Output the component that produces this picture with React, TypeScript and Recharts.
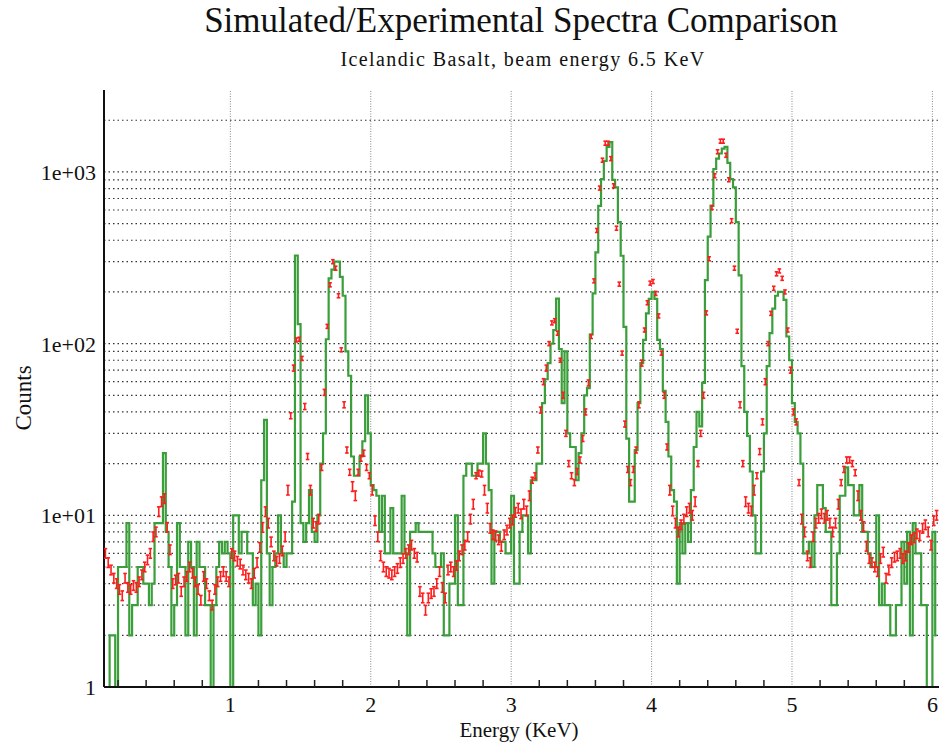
import React from 'react';
import { ComposedChart, Line, Scatter, XAxis, YAxis, ReferenceLine } from 'recharts';

// Spectrum bins: 0.02 keV wide, starting at 0.10 keV
const BIN_START = 0.1;
const BIN_WIDTH = 0.02;

// Simulated counts (green histogram), one value per bin
const simulated = [
  0, 0, 2, 2, 0, 5, 5, 5, 9, 2,
  3, 3, 5, 5, 4, 4, 3, 4, 9, 9,
  9, 23, 8, 5, 2, 3, 9, 5, 5, 2,
  7, 5, 2, 7, 5, 5, 3, 3, 0, 3,
  5, 7, 6, 7, 6, 0, 10, 10, 6, 8,
  8, 6, 6, 3, 4, 2, 16, 36, 6, 3,
  5, 6, 10, 6, 5, 6, 6, 12, 326, 130,
  9, 7, 9, 14, 8, 7, 10, 20, 30, 106,
  240, 270, 300, 300, 245, 190, 90, 65, 22, 17,
  17, 22, 27, 50, 30, 15, 14, 13, 8, 13,
  6, 6, 11, 6, 6, 6, 13, 6, 2, 8,
  8, 9, 8, 8, 8, 8, 8, 6, 5, 5,
  6, 2, 2, 4, 4, 10, 3, 3, 17, 20,
  20, 17, 17, 20, 20, 30, 20, 14, 4, 8,
  8, 7, 7, 6, 6, 13, 4, 4, 8, 10,
  10, 6, 16, 16, 20, 20, 45, 62, 77, 100,
  120, 183, 93, 45, 90, 30, 25, 25, 16, 23,
  30, 50, 55, 113, 196, 340, 634, 907, 1160, 1400,
  1490, 900, 812, 510, 325, 125, 28, 12, 12, 24,
  45, 77, 105, 150, 182, 200, 182, 105, 93, 53,
  35, 22, 14, 12, 4, 9, 6, 9, 7, 14,
  25, 40, 33, 59, 234, 420, 634, 1040, 1195, 1280,
  1366, 1400, 1130, 907, 812, 510, 250, 74, 40, 29,
  18, 10, 6, 6, 18, 30, 74, 115, 160, 190,
  200, 200, 180, 110, 80, 45, 35, 30, 20, 6,
  6, 7, 5, 10, 15, 15, 11, 8, 8, 3,
  3, 6, 13, 13, 19, 15, 15, 10, 10, 15,
  8, 8, 6, 5, 5, 10, 3, 4, 3, 3,
  2, 2, 3, 3, 7, 4, 8, 2, 9, 6,
  6, 3, 3, 0, 0, 8, 2,
];

// Experimental counts (red points with error bars)
const experimental = [
  6.0, 5.3, 4.8, 4.3, 4.0, 3.7, 3.4, 4.3, 3.8, 3.7,
  3.9, 3.8, 4.1, 4.5, 5.0, 5.5, 6.0, 7.5, 8.0, 10.5,
  12.0, 12.5, 8.5, 6.3, 4.0, 4.2, 4.3, 3.6, 4.1, 4.4,
  5.0, 4.6, 4.1, 3.7, 3.2, 4.4, 4.0, 3.4, 3.0, 3.7,
  4.1, 4.4, 4.7, 4.4, 4.1, 6.0, 5.8, 5.4, 5.2, 4.8,
  4.5, 4.3, 4.0, 4.6, 5.3, 6.5, 8.5, 10.5, 9.0, 7.0,
  5.8, 5.4, 5.6, 6.2, 7.5, 14, 38, 72, 105, 106,
  82, 43, 22, 14, 9, 8.6, 9.5, 19, 52, 126,
  220, 300, 275, 190, 92, 44, 24, 17.8, 14.7, 13,
  17.8, 21.5, 23, 19, 17, 14, 9.3, 7.5, 5.8, 5.0,
  4.7, 4.6, 4.5, 4.7, 4.9, 5.3, 5.6, 6.0, 6.3, 6.7,
  6.0, 5.7, 3.6, 3.3, 2.8, 3.3, 3.5, 3.6, 4.0, 4.7,
  3.8, 3.3, 4.8, 5.0, 4.7, 5.1, 5.8, 6.3, 6.7, 7.5,
  9.5, 11.6, 17, 17.6, 17.4, 14, 11, 8.4, 7.7, 7.6,
  7.2, 6.6, 7.7, 8.2, 9.0, 9.4, 10.4, 11, 10.2, 11.6,
  10.6, 13, 16, 17, 24, 41, 60, 72, 100, 132,
  136, 115, 80, 50, 30, 20, 17, 15.5, 18, 21,
  28, 40, 59, 110, 232, 456, 805, 1170, 1470, 1470,
  1195, 830, 470, 222, 88, 34, 18.5, 15.5, 18.5, 24,
  44, 77, 120, 173, 225, 230, 196, 145, 88, 50,
  25, 14, 10.6, 9, 8, 8.8, 9.5, 10.5, 11, 10,
  12, 20, 30, 50, 151, 312, 620, 950, 1310, 1510,
  1510, 1250, 900, 520, 275, 118, 44, 20, 12, 11,
  10.6, 14, 17, 23.5, 35, 60, 100, 150, 210, 255,
  265, 240, 200, 120, 70, 40, 35, 15.5, 9.5, 8,
  5.8, 5.3, 7.5, 9, 9.6, 10.2, 9.6, 10, 9, 8,
  9, 11.6, 15.5, 18.5, 21, 21, 20, 17.7, 13, 10,
  8.6, 6.6, 5.6, 5.3, 5, 4.7, 5.6, 6.1, 4.3, 4.8,
  5.3, 5.7, 5.8, 6, 5.6, 5.8, 6.5, 7.2, 7.4, 7.8,
  7.6, 8.4, 8.8, 8, 6.7, 9.3, 10,
];

const energyTicks = [
  0.2, 0.4, 0.6, 0.8, 1, 1.2, 1.4, 1.6, 1.8, 2, 2.2, 2.4, 2.6, 2.8, 3,
  3.2, 3.4, 3.6, 3.8, 4, 4.2, 4.4, 4.6, 4.8, 5, 5.2, 5.4, 5.6, 5.8, 6,
];
const energyGrid = [1, 2, 3, 4, 5, 6];
const countTicks = [1, 10, 100, 1000];
const countGrid = [
  2, 3, 4, 5, 6, 7, 8, 9, 10,
  20, 30, 40, 50, 60, 70, 80, 90, 100,
  200, 300, 400, 500, 600, 700, 800, 900, 1000, 2000,
];

const ZERO_FLOOR = 0.3; // empty bins drawn below the axis floor
const SERIF = '"Liberation Serif", "DejaVu Serif", serif';

const data = simulated.map((s, i) => ({
  energy: +(BIN_START + BIN_WIDTH * (i + 0.5)).toFixed(3),
  sim: s > 0 ? s : ZERO_FLOOR,
  exp: experimental[i],
}));

const fmtCount = (v: number) => (v === 1 ? '1' : `1e+0${Math.round(Math.log10(v))}`);

function BottomTick({ x, y, payload }: any) {
  const v = payload.value;
  const major = Math.abs(v - Math.round(v)) < 1e-6;
  if (major) {
    return (
      <text x={x} y={y + 25} textAnchor="middle" fontSize={22} fill="#111" fontFamily={SERIF}>
        {v}
      </text>
    );
  }
  return <line x1={x} x2={x} y1={y} y2={y - 7} stroke="#222" strokeWidth={1.5} />;
}

function TopTick({ x, y, payload }: any) {
  const v = payload.value;
  if (Math.abs(v - Math.round(v)) < 1e-6) return <g />;
  return <line x1={x} x2={x} y1={y} y2={y + 7} stroke="#222" strokeWidth={1.5} />;
}

function LeftTick({ x, y, payload }: any) {
  return (
    <text x={x} y={y + 8} textAnchor="end" fontSize={22} fill="#111" fontFamily={SERIF}>
      {fmtCount(payload.value)}
    </text>
  );
}

function ErrorMark(props: any) {
  const { cx, cy, payload } = props;
  if (cx == null || cy == null || !isFinite(cy)) return <g />;
  const v = payload.exp;
  const h = v < 15 ? 4.8 : v < 80 ? 3 : 2;
  return (
    <g stroke="#ff1c1c" strokeWidth={1.6}>
      <line x1={cx} x2={cx} y1={cy - h} y2={cy + h} />
      <line x1={cx - 1.8} x2={cx + 1.8} y1={cy - h} y2={cy - h} />
      <line x1={cx - 1.8} x2={cx + 1.8} y1={cy + h} y2={cy + h} />
    </g>
  );
}

export default function App() {
  return (
    <div style={{ position: 'absolute', left: 0, top: 0, width: 939, height: 744, background: '#fff' }}>
      <ComposedChart
        width={939}
        height={744}
        data={data}
        margin={{ top: 90, right: 0, bottom: 0, left: 24 }}
      >
        <XAxis
          dataKey="energy"
          type="number"
          domain={[0.1, 6.047]}
          allowDataOverflow
          ticks={energyTicks}
          interval={0}
          tickSize={0}
          tickMargin={0}
          tick={<BottomTick />}
          height={57}
          axisLine={{ stroke: '#111', strokeWidth: 2 }}
        />
        <XAxis
          xAxisId="top"
          orientation="top"
          dataKey="energy"
          type="number"
          domain={[0.1, 6.047]}
          allowDataOverflow
          ticks={energyTicks}
          interval={0}
          tickSize={0}
          tickMargin={0}
          tick={<TopTick />}
          height={0}
          axisLine={{ stroke: '#111', strokeWidth: 2 }}
        />
        <YAxis
          scale="log"
          domain={[1, 3000]}
          allowDataOverflow
          ticks={countTicks}
          interval={0}
          tickSize={0}
          tickMargin={8}
          tick={<LeftTick />}
          width={80}
          axisLine={{ stroke: '#111', strokeWidth: 2 }}
        />
        {countGrid.map((v) => (
          <ReferenceLine key={`h${v}`} y={v} stroke="#333" strokeWidth={1.2} strokeDasharray="1.5 3" />
        ))}
        {energyGrid.map((v) => (
          <ReferenceLine key={`v${v}`} x={v} stroke="#888" strokeDasharray="1 1.5" />
        ))}
        <Line
          dataKey="sim"
          type="step"
          stroke="#3a9e3a"
          strokeWidth={2.2}
          dot={false}
          isAnimationActive={false}
        />
        <Scatter dataKey="exp" shape={<ErrorMark />} isAnimationActive={false} />
      </ComposedChart>
      <svg
        width={939}
        height={744}
        style={{ position: 'absolute', left: 0, top: 0, pointerEvents: 'none' }}
      >
        <text x={521} y={32} textAnchor="middle" fontSize={35} fill="#111" fontFamily={SERIF}>
          Simulated/Experimental Spectra Comparison
        </text>
        <text x={523} y={66} textAnchor="middle" fontSize={20} letterSpacing={1.4} fill="#111" fontFamily={SERIF}>
          Icelandic Basalt, beam energy 6.5 KeV
        </text>
        <text
          x={0}
          y={0}
          transform="translate(31,398) rotate(-90)"
          textAnchor="middle"
          fontSize={23}
          fill="#111"
          fontFamily={SERIF}
        >
          Counts
        </text>
        <text x={519} y={737} textAnchor="middle" fontSize={21} fill="#111" fontFamily={SERIF}>
          Energy (KeV)
        </text>
      </svg>
    </div>
  );
}
